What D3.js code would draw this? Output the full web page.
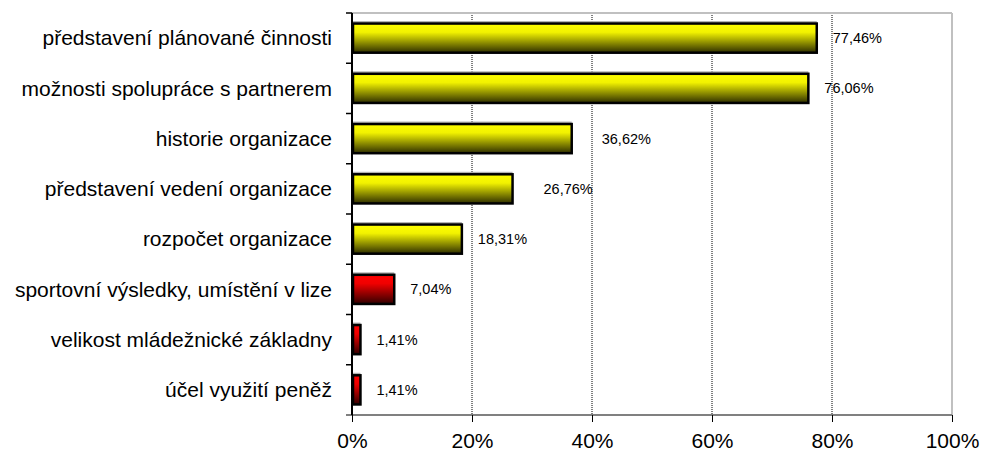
<!DOCTYPE html>
<html>
<head>
<meta charset="utf-8">
<script src="https://cdn.jsdelivr.net/npm/d3@7"></script>
<style>
  body { margin: 0; background: #fff; }
  text { font-family: "Liberation Sans", Arial, sans-serif; fill: #000; }
</style>
</head>
<body>
<div id="chart"></div>
<script>
// data
const categories = [
    "představení plánované činnosti",
    "možnosti spolupráce s partnerem",
    "historie organizace",
    "představení vedení organizace",
    "rozpočet organizace",
    "sportovní výsledky, umístění v lize",
    "velikost mládežnické základny",
    "účel využití peněž"
];
const values = [77.46, 76.06, 36.62, 26.76, 18.31, 7.04, 1.41, 1.41];
const highlighted = [false, false, false, false, false, true, true, true];
const xTicks = [0, 20, 40, 60, 80, 100];

// a couple of labels were nudged by hand in the original
const labelNudge = { "historie organizace": 14, "představení vedení organizace": 15 };

const width = 982, height = 452;
const margin = { top: 13, right: 30, bottom: 37, left: 352 };
const innerW = width - margin.left - margin.right;
const innerH = height - margin.top - margin.bottom;

const svg = d3.select('#chart')
    .append('svg')
    .attr('width', width)
    .attr('height', height);

const defs = svg.append('defs');
function grad(id, top, mid, bottom) {
    const g = defs.append('linearGradient')
        .attr('id', id)
        .attr('x1', 0).attr('y1', 0).attr('x2', 0).attr('y2', 1);
    g.append('stop').attr('offset', '0%').attr('stop-color', top);
    g.append('stop').attr('offset', '30%').attr('stop-color', mid);
    g.append('stop').attr('offset', '100%').attr('stop-color', bottom);
}
grad('gYellow', '#ffff00', '#f2f200', '#2e2e00');
grad('gRed', '#ff0000', '#f00000', '#300000');

const g = svg.append('g')
    .attr('transform', `translate(${margin.left},${margin.top})`);

const x = d3.scaleLinear().domain([0, 100]).range([0, innerW]);
const y = d3.scaleBand().domain(categories).range([0, innerH])
    .paddingInner(0.38).paddingOuter(0.19);

// gridlines
g.selectAll('.grid')
    .data(xTicks.filter(t => t > 0 && t < 100))
    .enter().append('line')
    .attr('class', 'grid')
    .attr('x1', d => x(d)).attr('x2', d => x(d))
    .attr('y1', 0).attr('y2', innerH)
    .attr('stroke', '#000')
    .attr('stroke-width', 1)
    .attr('stroke-dasharray', '1,1');

// top and right frame
g.append('line')
    .attr('x1', 0).attr('x2', innerW).attr('y1', 0).attr('y2', 0)
    .attr('stroke', '#c0c0c0').attr('stroke-width', 2);
g.append('line')
    .attr('x1', innerW).attr('x2', innerW).attr('y1', 0).attr('y2', innerH)
    .attr('stroke', '#c0c0c0').attr('stroke-width', 2);

// x axis
const xAxis = g.append('g')
    .attr('transform', `translate(0,${innerH})`)
    .call(d3.axisBottom(x).tickValues(xTicks).tickFormat(d => d + '%')
        .tickSizeInner(7).tickSizeOuter(0).tickPadding(11));
xAxis.select('.domain').attr('stroke', '#808080').attr('stroke-width', 2)
    .attr('d', `M-6,0H${innerW}`);
xAxis.selectAll('.tick line').attr('stroke', '#000');
xAxis.selectAll('.tick text')
    .attr('font-size', 21)
    .attr('font-family', '"Liberation Sans", Arial, sans-serif');

// y axis
const bandEdges = d3.range(categories.length + 1).map(i => i * innerH / categories.length);
const yAxis = g.append('g');
yAxis.append('line')
    .attr('x1', 0).attr('x2', 0).attr('y1', 0).attr('y2', innerH)
    .attr('stroke', '#000').attr('stroke-width', 2);
yAxis.selectAll('.ytick')
    .data(bandEdges.slice(0, -1))
    .enter().append('line')
    .attr('x1', -6).attr('x2', 0)
    .attr('y1', d => d).attr('y2', d => d)
    .attr('stroke', '#000').attr('stroke-width', 1.5);
yAxis.selectAll('.ylabel')
    .data(categories)
    .enter().append('text')
    .attr('x', -20)
    .attr('y', d => y(d) + y.bandwidth() / 2)
    .attr('dy', '0.35em')
    .attr('text-anchor', 'end')
    .attr('font-size', 21)
    .text(d => d);

// bars
const bars = g.selectAll('.bar')
    .data(categories.map((c, i) => ({ c, v: values[i], hi: highlighted[i] })))
    .enter().append('g');
bars.append('rect')
    .attr('x', 1)
    .attr('y', d => y(d.c) - 1.5)
    .attr('width', d => Math.max(0, x(d.v) - 1))
    .attr('height', 2)
    .attr('fill', '#b0b0b0');
bars.append('rect')
    .attr('class', 'bar')
    .attr('x', 1)
    .attr('y', d => y(d.c) + 1)
    .attr('width', d => x(d.v) - 1)
    .attr('height', y.bandwidth() - 2)
    .attr('fill', d => d.hi ? 'url(#gRed)' : 'url(#gYellow)')
    .attr('stroke', '#000')
    .attr('stroke-width', 2.5);

bars.append('text')
    .attr('x', d => x(d.v) + 16 + (labelNudge[d.c] || 0))
    .attr('y', d => y(d.c) + y.bandwidth() / 2)
    .attr('dy', '0.35em')
    .attr('font-size', 14.5)
    .text(d => d.v.toFixed(2).replace('.', ',') + '%');
</script>
</body>
</html>
